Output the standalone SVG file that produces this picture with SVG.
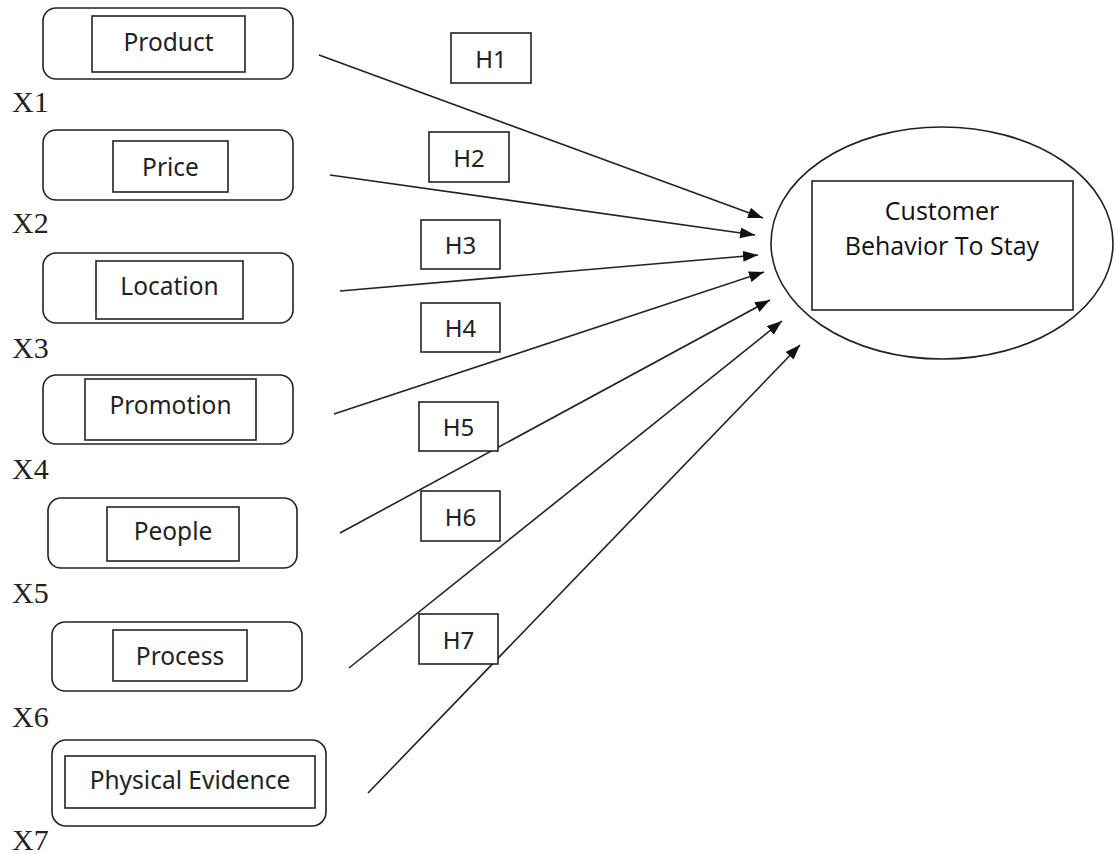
<svg xmlns="http://www.w3.org/2000/svg" width="1115" height="854" viewBox="0 0 1115 854">
  <defs>
    <marker id="arrow" markerUnits="userSpaceOnUse" markerWidth="16" markerHeight="12" refX="15" refY="5.5" orient="auto">
      <path d="M0,0 L15,5.5 L0,11 z" fill="#111"/>
    </marker>
    <style>
      .frame { fill: #fff; stroke: #222; stroke-width: 1.6; }
      .box { fill: none; stroke: #222; stroke-width: 1.6; }
      .lbl { font-family: "Noto Sans", "Open Sans", sans-serif; font-size: 24.5px; fill: #222; text-anchor: middle; }
      .var { font-family: "Liberation Serif", serif; font-size: 30px; fill: #222; }
      .link { stroke: #222; stroke-width: 1.6; fill: none; marker-end: url(#arrow); }
      .hyp { font-family: "Noto Sans", "Open Sans", sans-serif; font-size: 24px; fill: #222; text-anchor: middle; }
      .dv { font-family: "Open Sans", "Noto Sans", sans-serif; font-size: 25px; fill: #111; text-anchor: middle; }
    </style>
  </defs>
  <rect width="1115" height="854" fill="#fff"/>

  <!-- connectors -->
  <g id="connectors">
    <line class="link" x1="319" y1="55" x2="763" y2="218"/>
    <line class="link" x1="330" y1="175" x2="755" y2="235"/>
    <line class="link" x1="340" y1="291" x2="758" y2="255"/>
    <line class="link" x1="334" y1="414" x2="764" y2="272"/>
    <line class="link" x1="340" y1="533" x2="770" y2="300"/>
    <line class="link" x1="349" y1="668" x2="782" y2="321"/>
    <line class="link" x1="368" y1="793" x2="800" y2="345"/>
  </g>

  <!-- hypothesis labels -->
  <g id="h1"><rect class="frame" x="451" y="33" width="80" height="50"/><text class="hyp" x="491" y="68">H1</text></g>
  <g id="h2"><rect class="frame" x="429" y="132" width="80" height="50"/><text class="hyp" x="469" y="167">H2</text></g>
  <g id="h3"><rect class="frame" x="421" y="220" width="79" height="49"/><text class="hyp" x="460.5" y="254">H3</text></g>
  <g id="h4"><rect class="frame" x="421" y="303" width="79" height="49"/><text class="hyp" x="460.5" y="337">H4</text></g>
  <g id="h5"><rect class="frame" x="419" y="402" width="79" height="49"/><text class="hyp" x="458.5" y="436">H5</text></g>
  <g id="h6"><rect class="frame" x="421" y="491" width="79" height="50"/><text class="hyp" x="460.5" y="526">H6</text></g>
  <g id="h7"><rect class="frame" x="419" y="614" width="79" height="50"/><text class="hyp" x="458.5" y="649">H7</text></g>

  <!-- independent variables -->
  <g id="x1">
    <rect class="frame" x="43" y="8" width="250" height="71" rx="13"/>
    <rect class="box" x="92" y="16" width="153" height="56"/>
    <text class="lbl" x="168.5" y="51">Product</text>
    <text class="var" x="12" y="112">X1</text>
  </g>
  <g id="x2">
    <rect class="frame" x="43" y="130" width="250" height="70" rx="13"/>
    <rect class="box" x="113" y="141" width="115" height="51"/>
    <text class="lbl" x="170.5" y="176">Price</text>
    <text class="var" x="12" y="233">X2</text>
  </g>
  <g id="x3">
    <rect class="frame" x="43" y="253" width="250" height="70" rx="13"/>
    <rect class="box" x="96" y="261" width="147" height="58"/>
    <text class="lbl" x="169.5" y="295">Location</text>
    <text class="var" x="12" y="358">X3</text>
  </g>
  <g id="x4">
    <rect class="frame" x="43" y="375" width="250" height="69" rx="13"/>
    <rect class="box" x="85" y="379" width="171" height="61"/>
    <text class="lbl" x="170.5" y="414">Promotion</text>
    <text class="var" x="12" y="479">X4</text>
  </g>
  <g id="x5">
    <rect class="frame" x="48" y="498" width="249" height="70" rx="13"/>
    <rect class="box" x="107" y="507" width="132" height="54"/>
    <text class="lbl" x="173" y="540">People</text>
    <text class="var" x="12" y="603">X5</text>
  </g>
  <g id="x6">
    <rect class="frame" x="52" y="622" width="250" height="69" rx="13"/>
    <rect class="box" x="113" y="630" width="134" height="51"/>
    <text class="lbl" x="180" y="665">Process</text>
    <text class="var" x="12" y="727">X6</text>
  </g>
  <g id="x7">
    <rect class="frame" x="52" y="740" width="274" height="86" rx="14"/>
    <rect class="box" x="65" y="756" width="250" height="52"/>
    <text class="lbl" x="190" y="789">Physical Evidence</text>
    <text class="var" x="12" y="850">X7</text>
  </g>

  <!-- dependent variable -->
  <g id="customer-behavior">
    <ellipse class="frame" cx="942" cy="243" rx="171" ry="116"/>
    <rect class="box" x="812" y="181" width="261" height="129"/>
    <text class="dv" x="942" y="220">Customer</text>
    <text class="dv" x="942" y="255">Behavior To Stay</text>
  </g>
</svg>
